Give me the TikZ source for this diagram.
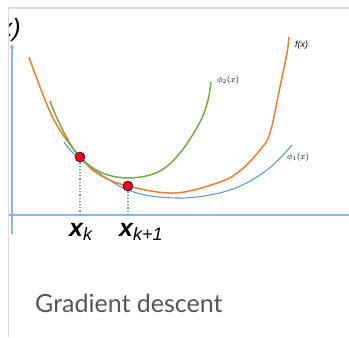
\documentclass[tikz,border=0pt]{standalone}
\usepackage{fontspec}
\setmainfont{Liberation Sans}
\newfontfamily\capfont{Lato}
\usetikzlibrary{arrows.meta}
\definecolor{forange}{HTML}{ED7D31}
\definecolor{pgreen}{HTML}{70AD47}
\definecolor{pblue}{HTML}{5B9BD5}
\definecolor{axblue}{HTML}{8DB6E2}
\definecolor{framegray}{HTML}{DADADA}
\definecolor{capgray}{HTML}{555555}
\begin{document}
\begin{tikzpicture}[x=1pt,y=-1pt,
  curve/.style={line width=1.5pt},
  axisline/.style={axblue,line width=1.8pt},
  gdpoint/.style={circle,fill=red,draw=blue!60!black,line width=0.6pt,minimum size=10pt,inner sep=0pt},
  dropline/.style={pblue,dotted,line width=1.2pt},
  xlab/.style={font=\fontsize{25}{25}\selectfont\bfseries\itshape,inner sep=0pt},
  biglab/.style={font=\fontsize{25}{25}\selectfont\itshape,inner sep=0pt},
  smalllab/.style={font=\fontsize{9}{9}\selectfont\itshape,inner sep=0pt,anchor=west,text=black}]
\useasboundingbox (0,0) rectangle (349,338);
% frame
\draw[framegray,line width=1.5pt] (8.5,337) -- (8.5,8) -- (349,8);
% clipped big label
\begin{scope}
\clip (9.5,9) rectangle (349,338);
\node[biglab,anchor=east] (fx) at (21,30) {f(x)};
\end{scope}
% axes
\coordinate (yb) at (12,234);
\coordinate (yt) at (12,44);
\coordinate (xl) at (9,215);
\coordinate (xr) at (349,215);
\draw[axisline,-{Stealth[length=5pt,width=5pt]}] (yb) -- (yt);
\draw[axisline] (xl) -- (xr);
% curves
\draw[curve,pblue,line width=1.1pt] plot[smooth,tension=0.6] coordinates
 {(64,142) (80,159) (128,190) (180,198) (230,190) (267,170) (292,145)};
\draw[curve,forange] plot[smooth,tension=0.6] coordinates
 {(29,57) (53,118) (80,157) (100,175) (128,186) (175,193) (220,182) (241,170) (260,150) (270,133) (280,87) (287,53) (289,37)};
\draw[curve,pgreen] plot[smooth,tension=0.6] coordinates
 {(50,101) (57,118) (68,140) (80,157) (100,172) (128,178) (158,172) (180,153) (200,122) (208,100) (211,82)};
% labels of curves
\node[smalllab] (lf) at (295,45) {f(x)};
\node[smalllab] (lp2) at (217,80) {$\phi_2(x)$};
\node[smalllab] (lp1) at (287,157) {$\phi_1(x)$};
% points
\node[gdpoint] (p1) at (80,157) {};
\node[gdpoint] (p2) at (128,186) {};
\coordinate (a1) at (80,214);
\coordinate (a2) at (128,214);
\draw[dropline] (p1) -- (a1);
\draw[dropline] (p2) -- (a2);
\node[xlab,anchor=base west] (xk) at (69,236) {x\textsubscript{\fontsize{18}{18}\selectfont\mdseries k}};
\node[xlab,anchor=base west] (xk1) at (119,236) {x\textsubscript{\fontsize{18}{18}\selectfont\mdseries k+1}};
% caption
\node[anchor=base west,text=capgray,font=\capfont\fontsize{25}{25}\selectfont,inner sep=0pt] (cap) at (35,312) {Gradient descent};
\end{tikzpicture}
\end{document}
